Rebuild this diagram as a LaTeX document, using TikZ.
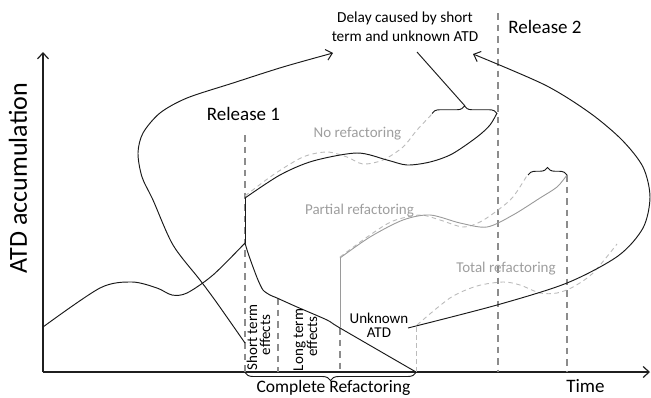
\documentclass[tikz,border=0pt]{standalone}
\usepackage{fontspec}
\setmainfont{Carlito}
\usetikzlibrary{arrows.meta,decorations.pathreplacing}
\definecolor{relgray}{HTML}{8C8C8C}
\definecolor{ltgray}{HTML}{BBBBBB}
\definecolor{txtgray}{HTML}{9E9E9E}
\definecolor{partgray}{HTML}{9A9A9A}
\begin{document}
\begin{tikzpicture}[x=1pt,y=-1pt,
  blk/.style={draw=black!90, line width=0.95pt},
  axisline/.style={draw=black!88, line width=1.2pt, -{Straight Barb[length=6pt,width=11pt,line width=1.2pt]}},
  arr/.style={blk, -{Straight Barb[length=6pt,width=11pt,line width=1pt]}},
  rel/.style={draw=relgray, line width=1.2pt, dash pattern=on 6.5pt off 5pt},
  ltdash/.style={draw=ltgray, line width=0.9pt, dash pattern=on 4.5pt off 3.5pt},
  part/.style={draw=partgray, line width=0.9pt},
  lbl/.style={font=\fontsize{15}{15}\selectfont, inner sep=0pt},
  glbl/.style={lbl, text=txtgray},
  big/.style={font=\fontsize{19}{22}\selectfont, inner sep=0pt},
  brc/.style={blk, decorate, decoration={brace, amplitude=#1}}
]
\useasboundingbox (0,0) rectangle (651,397);

% axes
\coordinate (O) at (43,372);
\coordinate (ytip) at (43,52);
\coordinate (xtip) at (650,372);
\draw[axisline] (O) -- (ytip);
\draw[axisline] (O) -- (xtip);
\node[rotate=90, anchor=base, inner sep=0pt, font=\fontsize{26}{28}\selectfont] (ylab) at (27,178) {ATD accumulation};
\node[big, anchor=base] (time) at (585.5,392) {Time};

% release lines
\draw[rel] (245,135) -- (245,372);
\draw[rel] (498,13) -- (498,372);
\draw[rel] (567,175) -- (567,372);
\draw[rel] (278,298) -- (278,372);
\draw[rel] (340,328) -- (340,372);
\draw[ltdash] (416,327) -- (416,372);

\node[big, anchor=base] (rel1) at (243.5,120) {Release 1};
\node[big, anchor=base] (rel2) at (545,33) {Release 2};

% initial curve
\draw[blk] plot[smooth] coordinates {(43,327) (100,288) (132,282) (157,288) (172,295) (187,293) (213,275) (245,243)};
\draw[blk] (245,243) -- (245,198);

% no refactoring
\draw[ltdash] plot[smooth] coordinates {(245,196) (273,175) (303,157) (327,152) (347,157) (363,164) (383,160) (403,147) (417,130) (433,113)};
\draw[blk] plot[smooth] coordinates {(245,198) (280,175) (313,161) (357,153) (387,160) (407,165) (430,162) (452,154) (477,137) (490,125) (497,113)};
\node[glbl, anchor=base] (noref) at (357.5,137) {No refactoring};

% decreasing curve
\draw[blk] plot[smooth, tension=0.45] coordinates {(245,243) (248,253) (253,267) (258,280) (263,290) (270,295) (277,298) (297,307) (327,320) (340,328) (416,372)};

% partial refactoring
\draw[part] (340,328) -- (340,258);
\draw[ltdash] plot[smooth] coordinates {(340,257) (370,235) (393,221) (420,215) (440,220) (463,227) (480,222) (498,210) (513,197) (528,174)};
\draw[part] plot[smooth] coordinates {(340,258) (370,237) (403,220) (430,215) (460,223) (487,227) (513,215) (540,198) (557,187) (567,175)};
\node[glbl, anchor=base] (partref) at (359.5,214) {Partial refactoring};

% total refactoring
\draw[ltdash] plot[smooth] coordinates {(417,325) (450,298) (477,286) (503,282) (520,285) (540,293) (557,293) (573,287) (593,273) (617,244)};
\node[glbl, anchor=base] (totref) at (506,272) {Total refactoring};

% unknown ATD
\node[lbl, anchor=base] (unk1) at (379,323) {Unknown};
\node[lbl, anchor=base] (unk2) at (379,337) {ATD};
\draw[arr] plot[smooth] coordinates {(408,328) (497,305) (567,283) (618,256) (643,228) (650,197) (643,167) (622,140) (590,113) (545,85) (473,54)};

% short / long term effects
\node[rotate=90, lbl, anchor=base] (st1) at (257,337.5) {Short term};
\node[rotate=90, lbl, anchor=base] (st2) at (270,335) {effects};
\node[rotate=90, lbl, anchor=base] (lt1) at (303,340) {Long term};
\node[rotate=90, lbl, anchor=base] (lt2) at (317,336.5) {effects};

% big left arrow
\draw[arr] plot[smooth] coordinates {(245,343) (217,303) (200,280) (173,245) (153,200) (142,177) (138,153) (143,133) (160,113) (187,98) (233,83) (283,67) (333,53)};

% braces
\draw[brc=7.5pt] (432,113.5) -- (497,113.5);
\coordinate (dtip) at (465,106);
\coordinate (dend) at (417,52);
\draw[blk] (dtip) -- (dend);
\node[font=\fontsize{15.3}{16}\selectfont, inner sep=0pt, anchor=base] (delay1) at (405,22) {Delay caused by short};
\node[font=\fontsize{15.3}{16}\selectfont, inner sep=0pt, anchor=base] (delay2) at (405,41) {term and unknown ATD};

\draw[brc=7.5pt] (528,175) -- (567,175);

\draw[brc=8pt] (416,372.5) -- (245,372.5);
\node[big, anchor=base, font=\fontsize{17.5}{20}\selectfont] (compl) at (333.5,392.5) {Complete Refactoring};
\end{tikzpicture}
\end{document}
